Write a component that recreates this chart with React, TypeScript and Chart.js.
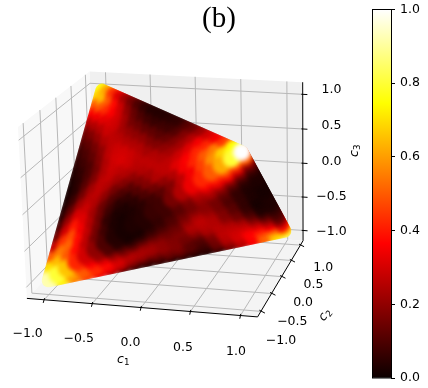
import React, { useEffect, useRef } from "react";
import { Chart, registerables } from "chart.js";

Chart.register(...registerables);

const tickValues = [-1.0, -0.5, 0.0, 0.5, 1.0];
const tickLabels = ["\u22121.0", "\u22120.5", "0.0", "0.5", "1.0"];
const colorbarTicks = [0, 0.2, 0.4, 0.6, 0.8, 1.0];

const vertexA = [-1, -1, -1];
const vertexB = [1, 1, -1];
const vertexC = [-1, 1, 1];
const vertexD = [1, -1, 1];

// Colour values on face A-D-C: row j moves towards C, entry i towards D
const faceUpper = [
  [.92,.8,.66,.42,.3,.2,.1,.04,.02,.03,.04,.07,.08,.16,.25,.34,.42,.5,.62,.8,1],
  [.7,.65,.5,.38,.27,.16,.08,.03,.02,.03,.05,.08,.12,.18,.27,.35,.46,.58,.68,.75],
  [.5,.55,.52,.38,.27,.16,.06,.03,.03,.05,.1,.15,.2,.25,.35,.42,.5,.55,.45],
  [.28,.44,.48,.35,.25,.15,.08,.05,.06,.11,.18,.25,.27,.32,.36,.42,.42,.35],
  [.15,.3,.4,.32,.23,.15,.11,.1,.12,.18,.23,.27,.27,.29,.32,.35,.3],
  [.09,.22,.31,.29,.25,.2,.16,.18,.2,.25,.27,.25,.23,.23,.25,.22],
  [.05,.14,.23,.26,.27,.25,.23,.25,.26,.27,.25,.2,.18,.18,.15],
  [.03,.08,.16,.23,.27,.28,.27,.29,.27,.23,.18,.14,.11,.11],
  [.02,.05,.12,.18,.25,.29,.31,.29,.25,.18,.12,.08,.06],
  [.02,.05,.1,.16,.25,.3,.3,.25,.2,.13,.08,.05],
  [.03,.06,.1,.18,.27,.29,.25,.2,.13,.07,.04],
  [.04,.08,.13,.2,.27,.26,.21,.15,.08,.04],
  [.06,.1,.16,.25,.27,.23,.16,.1,.04],
  [.08,.13,.21,.29,.29,.23,.14,.06],
  [.12,.18,.26,.31,.3,.2,.1],
  [.16,.25,.33,.36,.29,.16],
  [.25,.35,.43,.38,.23],
  [.36,.5,.5,.32],
  [.5,.65,.44],
  [.68,.62],
  [.76],
];

// Colour values on face A-D-B: row j (from 1) moves towards B, entry i towards D
const faceLower = [
  [.72,.6,.5,.36,.23,.11,.05,.02,.02,.04,.06,.08,.12,.18,.27,.35,.4,.46,.46,.5],
  [.55,.5,.42,.33,.2,.12,.06,.05,.06,.07,.1,.12,.16,.23,.27,.31,.33,.29,.2],
  [.45,.43,.38,.28,.19,.14,.12,.1,.1,.11,.15,.16,.2,.22,.2,.18,.15,.1],
  [.34,.34,.31,.26,.23,.2,.16,.14,.14,.18,.2,.19,.16,.14,.1,.07,.05],
  [.24,.26,.24,.24,.23,.2,.16,.16,.22,.25,.2,.16,.11,.06,.04,.03],
  [.11,.16,.2,.22,.2,.18,.18,.25,.27,.23,.16,.1,.06,.03,.03],
  [.06,.1,.16,.2,.18,.16,.23,.26,.25,.18,.12,.06,.03,.02],
  [.05,.1,.16,.18,.15,.18,.25,.25,.18,.12,.06,.03,.02],
  [.05,.12,.16,.12,.12,.23,.26,.2,.15,.06,.02,.02],
  [.04,.11,.12,.1,.18,.26,.25,.16,.08,.02,.03],
  [.04,.08,.08,.16,.27,.27,.23,.11,.03,.03],
  [.03,.06,.15,.26,.29,.27,.16,.04,.03],
  [.03,.13,.25,.3,.31,.23,.1,.05],
  [.06,.2,.3,.36,.31,.18,.08],
  [.15,.27,.37,.39,.27,.11],
  [.25,.36,.46,.36,.16],
  [.35,.52,.52,.29],
  [.5,.65,.4],
  [.7,.66],
  [.85],
];

const hotStops = [0, 0.365, 0.746, 1];
const hotRed = [10.6, 255, 255, 255];
const hotGreen = [0, 0, 255, 255];
const hotBlue = [0, 0, 0, 255];

const lerpStops = (t: number, channel: number[]) => {
  for (let k = 1; k < hotStops.length; k++) {
    if (t <= hotStops[k]) {
      const f = (t - hotStops[k - 1]) / (hotStops[k] - hotStops[k - 1]);
      return Math.round(channel[k - 1] + f * (channel[k] - channel[k - 1]));
    }
  }
  return channel[channel.length - 1];
};
const hot = (t: number) =>
  `rgb(${lerpStops(t, hotRed)},${lerpStops(t, hotGreen)},${lerpStops(t, hotBlue)})`;

// view of the 3D box
const centre = [167.3, 187.6];
const U = [98.4, 6.4];
const V = [26.45, -30];
const W = [-1.85, -71.3];
const persp = [-0.012, 0.05, -0.012];
const depthOf = (p: number[]) => 1 + persp[0] * p[0] + persp[1] * p[1] + persp[2] * p[2];
const project = (p: number[]) => {
  const w = depthOf(p);
  return {
    x: centre[0] + (p[0] * U[0] + p[1] * V[0] + p[2] * W[0]) / w,
    y: centre[1] + (p[0] * U[1] + p[1] * V[1] + p[2] * W[1]) / w,
  };
};

const X0 = -1.18;
const X1 = 1.17;
const Y0 = -1.15;
const Y1 = 1.15;
const Z0 = -1.2;
const Z1 = 1.22;
const Z_TICK = 1.04;

type Marks = { pts: number[]; v: number };
const faceMarks = (rows: number[][], far: number[], firstRow: number): Marks[] => {
  const out: Marks[] = [];
  rows.forEach((row, r) => {
    const j = r + firstRow;
    row.forEach((v, i) => {
      const a = (20 - i - j) / 20;
      const b = i / 20;
      const c = j / 20;
      out.push({
        pts: [0, 1, 2].map((k) => a * vertexA[k] + b * vertexD[k] + c * far[k]),
        v,
      });
    });
  });
  return out;
};

const marks = [...faceMarks(faceUpper, vertexC, 0), ...faceMarks(faceLower, vertexB, 1)].sort(
  (m, n) => depthOf(n.pts) - depthOf(m.pts)
);

const GAP = { x: null as any, y: null as any };
const polyline = (lines: number[][][]) => {
  const out: any[] = [];
  lines.forEach((line) => {
    line.forEach((p) => out.push(project(p)));
    out.push(GAP);
  });
  return out;
};

const gridLines: number[][][] = [];
const tickMarks: number[][][] = [];
tickValues.forEach((t) => {
  const z = t * Z_TICK;
  gridLines.push([[t, Y0, Z0], [t, Y1, Z0], [t, Y1, Z1]]);
  gridLines.push([[X0, t, Z1], [X0, t, Z0], [X1, t, Z0]]);
  gridLines.push([[X0, Y0, z], [X0, Y1, z], [X1, Y1, z]]);
  tickMarks.push([[t, Y0 + 0.015, Z0 + 0.015], [t, Y0 - 0.03, Z0 - 0.03]]);
  tickMarks.push([[X1 - 0.015, t, Z0 + 0.015], [X1 + 0.04, t, Z0 - 0.02]]);
  tickMarks.push([[X1 - 0.015, Y1, z], [X1 + 0.05, Y1, z]]);
});

const lineDs = (data: any[], color: string, order: number, width = 1) => ({
  type: "scatter" as const,
  data,
  showLine: true,
  spanGaps: false,
  borderColor: color,
  borderWidth: width,
  pointRadius: 0,
  fill: false,
  order,
});
const paneDs = (corners: number[][], color: string) => ({
  type: "scatter" as const,
  data: corners.map(project),
  showLine: true,
  borderWidth: 0,
  borderColor: "transparent",
  backgroundColor: color,
  pointRadius: 0,
  fill: "shape",
  order: 5,
});

const SANS = '"DejaVu Sans"';
const FS = 12.5;
const MARK_INDEX = 4;
const EDGE_REACH = 6.5;

const softMarks = {
  id: "softMarks",
  beforeDatasetDraw(chart: any, args: any) {
    if (args.index !== MARK_INDEX) return;
    const ctx = chart.ctx;
    ctx.save();
    const hull = [vertexA, vertexC, vertexD, vertexB].map((v) => {
      const p = project(v);
      return {
        x: chart.scales.x.getPixelForValue(p.x),
        y: chart.scales.y.getPixelForValue(p.y),
      };
    });
    ctx.beginPath();
    hull.forEach((p, i) => {
      const prev = hull[(i + hull.length - 1) % hull.length];
      const next = hull[(i + 1) % hull.length];
      const a1 = Math.atan2(-(p.x - prev.x), p.y - prev.y);
      const a2 = Math.atan2(-(next.x - p.x), next.y - p.y);
      ctx.arc(p.x, p.y, EDGE_REACH, a1, a2, false);
    });
    ctx.closePath();
    ctx.clip();
    ctx.filter = "blur(2px)";
  },
  afterDatasetDraw(chart: any, args: any) {
    if (args.index === MARK_INDEX) chart.ctx.restore();
  },
};

const textPlugin = {
  id: "labels3d",
  afterDraw(chart: any) {
    const ctx = chart.ctx;
    ctx.save();
    ctx.fillStyle = "#000";
    ctx.textAlign = "center";
    ctx.textBaseline = "middle";
    ctx.font = `${FS}px ${SANS}`;
    tickValues.forEach((t, i) => {
      const a = project([t, Y0, Z0]);
      ctx.fillText(tickLabels[i], a.x - 7.3 + 1.7 * t, a.y + 29.75 + 0.75 * t);
      const b = project([X1, t, Z0]);
      ctx.fillText(tickLabels[i], b.x + 18.5 + 0.5 * t, b.y + 22 - 2 * t);
      const c = project([X1, Y1, t * Z_TICK]);
      ctx.fillText(tickLabels[i], 331.5, c.y);
    });
    const sym = (x: number, y: number, rot: number, sub: string) => {
      ctx.save();
      ctx.translate(x, y);
      ctx.rotate(rot);
      ctx.textAlign = "left";
      ctx.font = `italic ${FS}px ${SANS}`;
      ctx.fillText("c", -6, 0);
      ctx.font = `${FS * 0.7}px ${SANS}`;
      ctx.fillText(sub, 1, 3);
      ctx.restore();
    };
    sym(123, 360, 0, "1");
    sym(325, 315, -0.9, "2");
    sym(355, 151, -Math.PI / 2, "3");
    ctx.font = '29px "Liberation Serif"';
    ctx.textAlign = "center";
    ctx.textBaseline = "alphabetic";
    ctx.fillText("(b)", 219, 27);
    ctx.restore();
  },
};

export default function App() {
  const mainRef = useRef<HTMLCanvasElement>(null);
  const barRef = useRef<HTMLCanvasElement>(null);

  useEffect(() => {
    const main = new Chart(mainRef.current as HTMLCanvasElement, {
      type: "scatter",
      data: {
        datasets: [
          paneDs([[X0, Y0, Z0], [X1, Y0, Z0], [X1, Y1, Z0], [X0, Y1, Z0]], "#f4f4f4"),
          paneDs([[X0, Y0, Z0], [X0, Y1, Z0], [X0, Y1, Z1], [X0, Y0, Z1]], "#f8f8f8"),
          paneDs([[X0, Y1, Z0], [X1, Y1, Z0], [X1, Y1, Z1], [X0, Y1, Z1]], "#f0f0f0"),
          lineDs(polyline(gridLines), "#b8b8b8", 4, 1),
          {
            type: "scatter" as const,
            data: marks.map((m) => project(m.pts)),
            pointRadius: 9,
            pointBorderWidth: 0,
            pointBackgroundColor: marks.map((m) => hot(m.v)),
            showLine: false,
            order: 3,
          },
          lineDs(polyline([[[X0, Y0, Z0], [X1, Y0, Z0], [X1, Y1, Z0], [X1, Y1, Z1]]]), "#000", 2, 1),
          lineDs(polyline(tickMarks), "#000", 1, 1),
        ] as any,
      },
      options: {
        animation: false,
        responsive: false,
        events: [],
        layout: { padding: 0 },
        plugins: { legend: { display: false }, tooltip: { enabled: false } },
        scales: {
          x: { type: "linear", min: 0, max: 428, display: false },
          y: { type: "linear", min: 0, max: 388, reverse: true, display: false },
        },
      } as any,
      plugins: [softMarks, textPlugin],
    });

    const bar = new Chart(barRef.current as HTMLCanvasElement, {
      type: "bar",
      data: {
        labels: ["c3"],
        datasets: [
          {
            data: [1],
            barPercentage: 1,
            categoryPercentage: 1,
            borderWidth: 0,
            backgroundColor: (c: any) => {
              const area = c.chart.chartArea;
              if (!area) return "#000";
              const g = c.chart.ctx.createLinearGradient(0, area.bottom, 0, area.top);
              hotStops.forEach((s, k) =>
                g.addColorStop(s, `rgb(${hotRed[k]},${hotGreen[k]},${hotBlue[k]})`)
              );
              return g;
            },
          },
        ],
      },
      options: {
        animation: false,
        responsive: false,
        events: [],
        layout: { padding: { left: 12, top: 29.5, bottom: 30, right: 0 } },
        plugins: { legend: { display: false }, tooltip: { enabled: false } },
        scales: {
          x: { display: false },
          y: {
            position: "right",
            min: 0,
            max: 1,
            afterFit: (s: any) => {
              s.width = 37;
            },
            afterBuildTicks: (s: any) => {
              s.ticks = colorbarTicks.map((value) => ({ value }));
            },
            grid: { drawOnChartArea: false, drawTicks: true, tickLength: 4, color: "#000", tickWidth: 1 },
            border: { display: true, color: "#000", width: 1 },
            ticks: {
              color: "#000",
              padding: 5,
              font: { family: "DejaVu Sans", size: FS },
              callback: (v: any) => Number(v).toFixed(1),
            },
          },
        },
      } as any,
      plugins: [
        {
          id: "barFrame",
          afterDraw(chart: any) {
            const { left, right, top, bottom } = chart.chartArea;
            const ctx = chart.ctx;
            ctx.save();
            ctx.strokeStyle = "#000";
            ctx.lineWidth = 1;
            ctx.strokeRect(left + 0.5, top, right - left, bottom - top);
            ctx.restore();
          },
        },
      ],
    });

    return () => {
      main.destroy();
      bar.destroy();
    };
  }, []);

  return (
    <div style={{ position: "absolute", left: 0, top: 0, width: 428, height: 388, overflow: "hidden", background: "#fff" }}>
      <canvas ref={mainRef} width={428} height={388} style={{ position: "absolute", left: 0, top: 0, display: "block" }} />
      <canvas ref={barRef} width={68} height={428} style={{ position: "absolute", left: 360, top: -20, display: "block" }} />
    </div>
  );
}
